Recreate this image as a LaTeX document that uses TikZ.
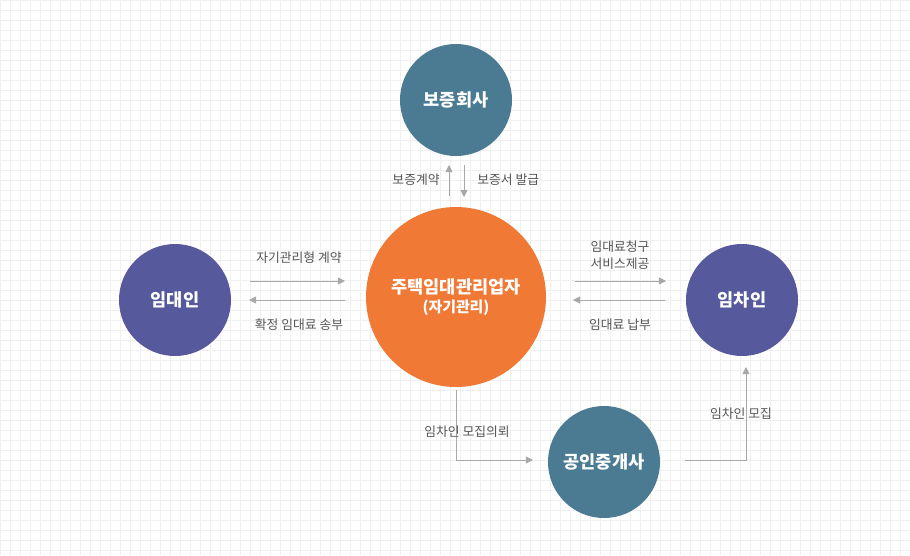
\documentclass[tikz,border=0pt]{standalone}
\usepackage{fontspec}
\setmainfont{Noto Sans CJK KR}
\usetikzlibrary{patterns,arrows.meta}
\definecolor{teal1}{HTML}{4B7B93}
\definecolor{purp}{HTML}{56599B}
\definecolor{orng}{HTML}{F07935}
\definecolor{arr}{HTML}{A8A8A8}
\definecolor{txt}{HTML}{555555}
\tikzset{
 circ/.style={circle,minimum size=#1,inner sep=0pt,text=white,font=\bfseries\fontsize{10}{12}\selectfont,align=center},
 lbl/.style={text=txt,font=\fontsize{7.3}{9.5}\selectfont,align=center,inner sep=0pt},
 con/.style={arr,line width=0.5pt,-{Triangle[length=4pt,width=4pt]}}
}
\begin{document}
\begin{tikzpicture}[x=0.02cm,y=-0.02cm]
\useasboundingbox (0,0) rectangle (910,555);
\fill[white] (0,0) rectangle (910,555);
\foreach \i in {0,10,...,910} \draw[black!6,line width=0.3pt] (\i,0) -- (\i,555);
\foreach \j in {0,10,...,550} \draw[black!6,line width=0.3pt] (0,\j) -- (910,\j);
\foreach \p/\c/\r/\n in {456/100/112/a,175/300/112/b,742/300/112/d,604/462/112/e}{}
\node[circ=112*0.02cm,fill=teal1] (bo) at (456,100) {보증회사};
\node[circ=112*0.02cm,fill=purp] (im) at (175,300) {임대인};
\node[circ=112*0.02cm,fill=purp] (ic) at (742,300) {임차인};
\node[circ=112*0.02cm,fill=teal1] (gj) at (604,462) {공인중개사};
\node[circ=180*0.02cm,fill=orng] (ct) at (456,297) {주택임대관리업자\\[-1pt]{\fontsize{8.5}{10}\selectfont (자기관리)}};
\foreach \n in {bo,im,ic,gj,ct} \path[pattern=north east lines,pattern color=white!40!gray,opacity=0.25] (\n.center) circle [radius=\pgfkeysvalueof{/pgf/minimum width}/2];
% arrows top
\coordinate (u1) at (449,196); \coordinate (u2) at (449,165);
\coordinate (d1) at (464,165); \coordinate (d2) at (464,197);
\draw[con] (u1) -- (u2); \draw[con] (d1) -- (d2);
\node[lbl,anchor=east] (l1) at (440,180) {보증계약};
\node[lbl,anchor=west] (l2) at (477,180) {보증서 발급};
% left
\coordinate (a1) at (250,281); \coordinate (a2) at (345,281);
\coordinate (b1) at (345,300); \coordinate (b2) at (249,300);
\draw[con] (a1) -- (a2); \draw[con] (b1) -- (b2);
\node[lbl] (l3) at (299,258) {자기관리형 계약};
\node[lbl] (l4) at (299,325) {확정 임대료 송부};
% right
\coordinate (c1) at (575,281); \coordinate (c2) at (666,281);
\coordinate (e1) at (665,300); \coordinate (e2) at (573,300);
\draw[con] (c1) -- (c2); \draw[con] (e1) -- (e2);
\node[lbl] (l5) at (620,255) {임대료청구\\서비스제공};
\node[lbl] (l6) at (620,325) {임대료 납부};
% bottom
\coordinate (f1) at (456,390); \coordinate (f2) at (533,460);
\draw[con] (f1) |- (f2);
\node[lbl] (l7) at (467,432) {임차인 모집의뢰};
\coordinate (g1) at (685,460); \coordinate (g2) at (746,367);
\draw[con] (g1) -| (g2);
\node[lbl] (l8) at (741,414) {임차인 모집};
\end{tikzpicture}
\end{document}
